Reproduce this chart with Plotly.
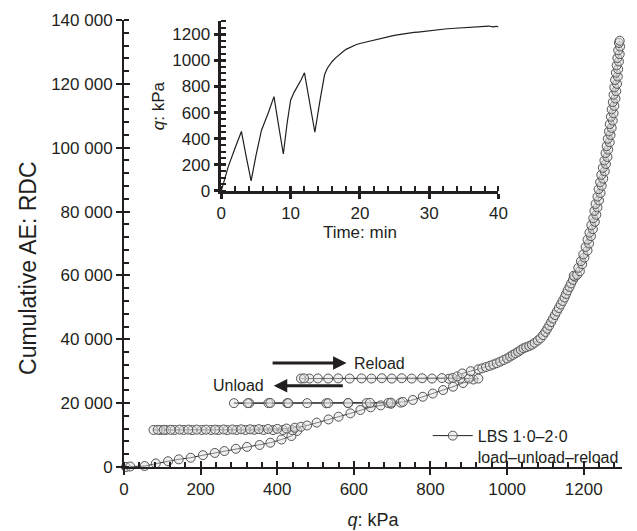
import plotly.graph_objects as go

# ---------------- main chart data: q (kPa) vs cumulative AE (RDC) ----------------
# initial loading
q_load1 = [5, 16, 54, 83, 115, 143, 174, 206, 237, 262, 292, 321, 354, 382, 411, 437, 452]
ae_load1 = [0, 150, 300, 1100, 1800, 2400, 2900, 3700, 4400, 5000, 5700, 6300, 6900, 7600, 8600, 9700, 11300]
# first unload
q_unload1 = [440, 415, 389, 364, 340, 317, 294, 270, 247, 227, 203, 178, 156, 132, 110, 95, 77]
ae_unload1 = [11500, 11600, 11550, 11600, 11650, 11600, 11600, 11550, 11600, 11600, 11600, 11550, 11600, 11600, 11600, 11600, 11600]
# first reload
q_reload1 = [88, 104, 122, 145, 168, 190, 214, 238, 260, 283, 306, 329, 352, 376, 400, 424, 446, 462]
ae_reload1 = [11650, 11650, 11650, 11700, 11700, 11700, 11700, 11700, 11750, 11750, 11800, 11800, 11850, 11900, 11950, 12050, 12300, 12600]
# second loading
q_load2 = [478, 503, 534, 560, 591, 617, 644, 670, 697, 722]
ae_load2 = [13000, 13900, 14900, 15750, 16800, 17850, 18700, 19300, 19800, 20150]
# second unload
q_unload2 = [690, 633, 585, 528, 478, 426, 377, 327, 287]
ae_unload2 = [20050, 20000, 20000, 19950, 20000, 20000, 20000, 20000, 20000]
# second reload
q_reload2 = [323, 382, 429, 533, 585, 642, 697, 728]
ae_reload2 = [20000, 20050, 20000, 20000, 20050, 20100, 20150, 20400]
# third loading
q_load3 = [754, 780, 806, 833, 859, 885, 912, 925]
ae_load3 = [21000, 22000, 23000, 24100, 25150, 26300, 27400, 27700]
# third unload
q_unload3 = [900, 878, 848, 804, 751, 699, 646, 589, 533, 484, 462]
ae_unload3 = [27700, 27700, 27650, 27700, 27700, 27700, 27700, 27700, 27700, 27700, 27700]
# third reload
q_reload3 = [470, 506, 559, 620, 673, 725, 778, 830, 858, 870, 883, 905, 925]
ae_reload3 = [27750, 27750, 27750, 27750, 27800, 27800, 27800, 27850, 27900, 28400, 29300, 30000, 30600]
# final loading to failure
q_final = [935, 945, 955, 964, 973, 982, 991, 1000, 1008, 1015, 1022, 1029, 1036, 1043, 1050,
           1058, 1065, 1072, 1080, 1087, 1094, 1100, 1105, 1110, 1115, 1120, 1125, 1130, 1135,
           1140, 1145, 1150, 1154, 1158, 1163, 1167, 1172, 1177, 1174, 1183, 1190, 1186, 1196,
           1193, 1202, 1199, 1210, 1205, 1214, 1210, 1219, 1215, 1224, 1220, 1229, 1225, 1233,
           1228, 1236, 1231, 1240, 1236, 1244, 1239, 1247, 1243, 1251, 1246, 1255, 1250, 1258,
           1254, 1262, 1257, 1264, 1260, 1268, 1263, 1270, 1266, 1273, 1268, 1276, 1271, 1278,
           1273, 1280, 1276, 1283, 1278, 1285, 1280, 1287, 1282, 1289, 1284, 1290, 1286, 1292,
           1288, 1294, 1290, 1295, 1292, 1294]
ae_final = [30900, 31300, 31700, 32100, 32500, 33000, 33500, 34000, 34600, 35100, 35600, 36100, 36700, 37200, 37500,
            37900, 38300, 38900, 39600, 40300, 41300, 42300, 43300, 44300, 45400, 46500, 47600, 48700, 49800,
            50900, 52000, 53100, 54200, 55300, 56400, 57500, 58600, 59600, 59900, 60200, 61300, 62400, 63500,
            64500, 65600, 66600, 67800, 68900, 70000, 71200, 72300, 73400, 74500, 75700, 76800, 77900, 79000,
            80200, 81300, 82400, 83500, 84700, 85800, 87000, 88100, 89200, 90300, 91500, 92600, 93700, 94900,
            96000, 97100, 98300, 99400, 100500, 101700, 102800, 104000, 105100, 106200, 107400, 108500, 109700, 110800,
            112000, 113100, 114300, 115400, 116600, 117700, 118900, 120000, 121200, 122300, 123500, 124600, 125800, 127000,
            128100, 129300, 130500, 131700, 132800, 133500]

q_all = (q_load1 + q_unload1 + q_reload1 + q_load2 + q_unload2 + q_reload2 +
         q_load3 + q_unload3 + q_reload3 + q_final)
ae_all = (ae_load1 + ae_unload1 + ae_reload1 + ae_load2 + ae_unload2 + ae_reload2 +
          ae_load3 + ae_unload3 + ae_reload3 + ae_final)

# ---------------- inset data: q (kPa) vs time (min) ----------------
t_min = [0, 0.3, 1.0, 2.0, 2.9, 3.6, 4.3, 5.0, 5.8, 6.8, 7.6, 8.3, 8.95, 9.5, 10.0, 10.5, 11.0,
         11.5, 12.0, 12.8, 13.5, 14.2, 14.9, 15.3, 15.7, 16.0, 16.5, 17.0, 17.5, 18.0, 18.5,
         19.0, 19.5, 20.0, 20.6, 21.2, 21.8, 22.4, 23.0, 23.6, 24.2, 24.8, 25.4, 26.0, 26.6,
         27.2, 27.8, 28.4, 29.0, 29.6, 30.2, 30.8, 31.4, 32.0, 32.6, 33.2, 33.8, 34.4, 35.0,
         35.6, 36.2, 36.8, 37.4, 38.0, 38.6, 39.2, 39.7, 40.0]
q_time = [0, 55, 185, 330, 455, 260, 75, 270, 465, 600, 722, 490, 282, 520, 695, 755, 800,
          850, 905, 670, 449, 680, 890, 940, 975, 992, 1020, 1045, 1065, 1085, 1098,
          1110, 1122, 1130, 1138, 1147, 1152, 1162, 1168, 1175, 1182, 1190, 1196, 1202, 1205,
          1210, 1215, 1218, 1222, 1228, 1230, 1234, 1238, 1240, 1243, 1245, 1247, 1250, 1252,
          1255, 1253, 1258, 1260, 1262, 1264, 1258, 1262, 1258]

FONT = "Liberation Sans, Arial, Helvetica, sans-serif"
INK = "#231f20"
TICK = 17

fig = go.Figure()

fig.add_trace(go.Scatter(
    x=q_all, y=ae_all, mode="lines+markers",
    name="LBS 1·0–2·0<br>load–unload–reload",
    line=dict(color=INK, width=1),
    marker=dict(symbol="circle", size=9, color="rgba(225,225,225,0.5)",
                line=dict(color="#555555", width=1)),
    cliponaxis=False, xaxis="x", yaxis="y",
))

fig.add_trace(go.Scatter(
    x=t_min, y=q_time, mode="lines", showlegend=False,
    line=dict(color=INK, width=1.2), xaxis="x2", yaxis="y2",
))

# dummy traces to activate overlay axes (inside halves of crossing major ticks)
fig.add_trace(go.Scatter(x=[], y=[], xaxis="x3", yaxis="y3", showlegend=False))
fig.add_trace(go.Scatter(x=[], y=[], xaxis="x4", yaxis="y4", showlegend=False))

axis_common = dict(showgrid=False, zeroline=False, showline=True, linecolor=INK,
                   ticks="outside", tickcolor=INK, color=INK, automargin=False,
                   tickfont=dict(family=FONT, size=TICK, color=INK))
overlay_common = dict(showticklabels=False, showline=False, showgrid=False, zeroline=False,
                      ticks="inside", tickcolor=INK, automargin=False)

fig.update_layout(
    template="none",
    width=637, height=531,
    margin=dict(l=116, r=23, t=12, b=72, pad=0),
    paper_bgcolor="white", plot_bgcolor="white",
    separators=". ",
    font=dict(family=FONT, size=TICK, color=INK),
    xaxis=dict(**axis_common, range=[0, 1300], tick0=0, dtick=200, linewidth=2,
               ticklen=6, tickwidth=2,
               minor=dict(dtick=40, ticks="inside", ticklen=5, tickwidth=1.5, tickcolor=INK),
               title=dict(text="<i>q</i>: kPa", standoff=15, font=dict(size=18)),
               domain=[0, 1], anchor="y"),
    yaxis=dict(**axis_common, range=[0, 140000], tick0=0, dtick=20000, tickformat=",d",
               linewidth=2, ticklen=6, tickwidth=2,
               minor=dict(dtick=4000, ticks="inside", ticklen=5, tickwidth=1.5, tickcolor=INK),
               domain=[0, 1], anchor="x"),
    xaxis3=dict(**overlay_common, overlaying="x", anchor="y", range=[0, 1300], tick0=0, dtick=200,
                ticklen=6, tickwidth=2),
    yaxis3=dict(**overlay_common, overlaying="y", anchor="x", range=[0, 140000], tick0=0, dtick=20000,
                ticklen=6, tickwidth=2),
    xaxis2=dict(**axis_common, range=[0, 40], tick0=0, dtick=10, linewidth=2.5,
                ticklen=5, tickwidth=2.5,
                minor=dict(dtick=2, ticks="inside", ticklen=5, tickwidth=2, tickcolor=INK),
                title=dict(text="Time: min", standoff=4, font=dict(size=17)),
                domain=[0.1954, 0.752], anchor="y2"),
    yaxis2=dict(**axis_common, range=[0, 1300], tick0=0, dtick=200, linewidth=2.5,
                ticklen=5, tickwidth=2.5,
                minor=dict(dtick=50, ticks="inside", ticklen=5, tickwidth=2, tickcolor=INK),
                title=dict(text="<i>q</i>: kPa", standoff=4, font=dict(size=17)),
                domain=[0.618, 0.997], anchor="x2"),
    xaxis4=dict(**overlay_common, overlaying="x2", anchor="y2", range=[0, 40], tick0=0, dtick=10,
                ticklen=5, tickwidth=2.5),
    yaxis4=dict(**overlay_common, overlaying="y2", anchor="x2", range=[0, 1300], tick0=0, dtick=200,
                ticklen=5, tickwidth=2.5),
    showlegend=True,
    legend=dict(x=0.61, y=0.108, xanchor="left", yanchor="top", valign="top",
                itemwidth=40, bgcolor="rgba(0,0,0,0)",
                font=dict(family=FONT, size=16, color=INK), tracegroupgap=0),
)

# main y-axis title (rotated text)
fig.add_annotation(x=-0.193, y=0.445, xref="paper", yref="paper", text="Cumulative AE: RDC",
                   textangle=-90, showarrow=False, xanchor="center", yanchor="middle",
                   font=dict(family=FONT, size=23, color=INK))

# Reload / Unload arrows
fig.add_annotation(x=581, y=32570, ax=384, ay=32570, xref="x", yref="y", axref="x", ayref="y",
                   text="", showarrow=True, arrowhead=2, arrowsize=0.9, arrowwidth=3, arrowcolor=INK)
fig.add_annotation(x=594, y=32570, xref="x", yref="y", text="Reload", showarrow=False,
                   xanchor="left", yanchor="middle", font=dict(family=FONT, size=16, color=INK))
fig.add_annotation(x=391, y=25460, ax=575, ay=25460, xref="x", yref="y", axref="x", ayref="y",
                   text="", showarrow=True, arrowhead=2, arrowsize=0.9, arrowwidth=3, arrowcolor=INK)
fig.add_annotation(x=370, y=25460, xref="x", yref="y", text="Unload", showarrow=False,
                   xanchor="right", yanchor="middle", font=dict(family=FONT, size=16, color=INK))

fig.write_html("out.html")
